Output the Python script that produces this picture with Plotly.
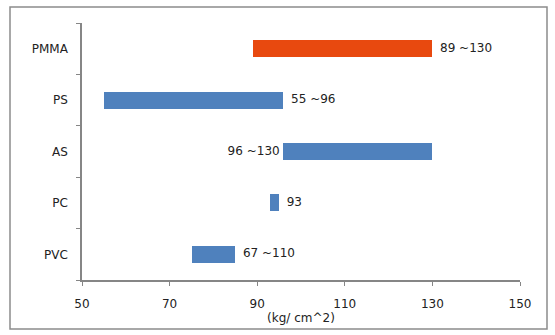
import plotly.graph_objects as go

# Strength ranges per resin, drawn bottom to top
materials = ["PVC", "PC", "AS", "PS", "PMMA"]
range_start = [75, 93, 96, 55, 89]
range_end = [85, 95, 130, 96, 130]
range_labels = ["67 ~110", "93", "96 ~130", "55 ~96", "89 ~130"]
label_side = ["end", "end", "start", "end", "end"]
bar_colors = ["#4F81BD", "#4F81BD", "#4F81BD", "#4F81BD", "#E8490F"]

x_ticks = [50, 70, 90, 110, 130, 150]
x_title = "(kg/ cm^2)"

font_family = "DejaVu Sans"
text_color = "#222222"
axis_color = "#868686"

fig = go.Figure()

fig.add_trace(go.Bar(
    y=materials,
    x=[e - s for s, e in zip(range_start, range_end)],
    base=range_start,
    orientation="h",
    marker=dict(color=bar_colors, line=dict(width=0)),
    width=0.33,
    hoverinfo="skip",
    showlegend=False,
))

# Range labels next to each bar
lab_x = [e if side == "end" else s for s, e, side in zip(range_start, range_end, label_side)]
lab_pos = ["middle right" if side == "end" else "middle left" for side in label_side]
fig.add_trace(go.Scatter(
    y=materials,
    x=lab_x,
    mode="text",
    text=[("  " + t) if side == "end" else (t + " ") for t, side in zip(range_labels, label_side)],
    textposition=lab_pos,
    textfont=dict(family=font_family, size=12, color=text_color),
    hoverinfo="skip",
    showlegend=False,
    cliponaxis=False,
))

fig.update_layout(
    width=555,
    height=335,
    margin=dict(l=82, r=35, t=23, b=55),
    paper_bgcolor="white",
    plot_bgcolor="white",
    font=dict(family=font_family, size=12, color=text_color),
    bargap=0,
    xaxis=dict(
        range=[50, 150],
        tickvals=x_ticks,
        ticktext=[str(v) for v in x_ticks],
        showgrid=False,
        zeroline=False,
        showline=True,
        linecolor=axis_color,
        linewidth=1.5,
        ticks="outside",
        ticklen=4,
        tickcolor=axis_color,
        tickwidth=1,
        ticklabelstandoff=8,
        title=dict(text=x_title, standoff=0, font=dict(family=font_family, size=12, color=text_color)),
        fixedrange=True,
    ),
    yaxis=dict(
        categoryorder="array",
        categoryarray=materials,
        showgrid=False,
        zeroline=False,
        showline=True,
        linecolor=axis_color,
        linewidth=1.5,
        ticks="outside",
        tickson="boundaries",
        ticklen=4,
        tickcolor=axis_color,
        tickwidth=1,
        ticklabelstandoff=10,
        fixedrange=True,
    ),
    shapes=[
        dict(type="rect", xref="paper", yref="paper",
             x0=-72 / 438, x1=465 / 438, y0=-49 / 257, y1=(257 + 16) / 257,
             line=dict(color="#8C8C8C", width=1.5), fillcolor="rgba(0,0,0,0)", layer="below"),
    ],
)

fig.write_html("out.html")
